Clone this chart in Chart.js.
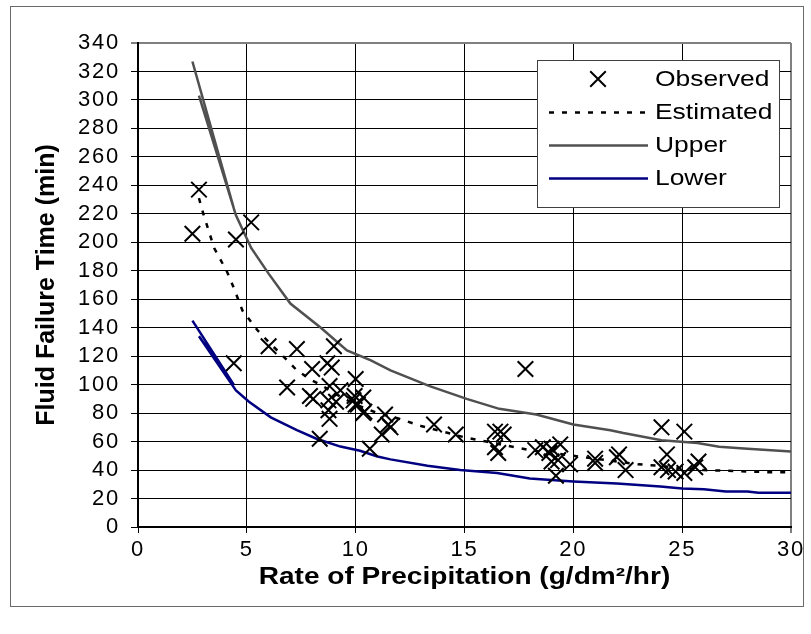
<!DOCTYPE html>
<html><head><meta charset="utf-8">
<script src="https://cdn.jsdelivr.net/npm/chart.js@4.4.0/dist/chart.umd.min.js"></script>
<style>html,body{margin:0;padding:0;background:#fff}#wrap{width:811px;height:634px;position:relative}</style>
</head><body><div id="wrap"><canvas id="c" width="811" height="634"></canvas></div>
<script>
const observedX = [2.5, 2.8, 4.5, 5.2, 4.4, 6.0, 7.3, 9.0, 6.85, 8.0, 8.7, 8.9, 7.9, 8.05, 8.8, 9.3, 10.0, 8.75, 9.1, 9.9, 10.0, 10.1, 10.35, 8.75, 8.8, 8.35, 10.65, 10.35, 10.4, 11.35, 11.5, 11.6, 11.2, 13.6, 14.6, 16.4, 16.4, 17.8, 16.65, 16.8, 16.55, 18.25, 18.6, 18.9, 19.4, 19.0, 19.3, 19.85, 21.0, 22.0, 24.05, 25.1, 22.1, 22.4, 24.3, 24.05, 24.35, 24.7, 25.1, 25.75, 25.6, 19.2, 21.0, 9.95, 19.0];
const observedY = [206, 237, 202, 214, 115, 127, 125, 127, 98, 111, 115, 112, 92, 90, 99, 96, 104, 89, 88, 89, 86, 86, 80, 82, 76, 62, 55, 91, 81, 79, 72, 70, 65, 72, 65, 67, 56, 111, 67, 65, 52, 54, 56, 52, 58, 46, 47, 44, 48, 49, 70, 67, 51, 40, 51, 42, 40, 39, 38, 46, 42, 36, 45, 92, 55];

const estimatedX = [2.8, 3.0, 3.5, 4.1, 4.4, 4.8, 5.5, 6.0, 6.8, 7.3, 8.0, 8.5, 9.0, 10.0, 11.0, 12.0, 13.0, 14.0, 15.0, 16.0, 17.0, 18.0, 19.0, 20.0, 21.0, 22.0, 23.0, 24.0, 25.0, 26.0, 27.0, 28.0, 29.0, 30.0];
const estimatedY = [231, 220, 196, 179, 168, 152, 138, 130, 118, 110, 103, 99, 94, 86, 80, 76, 71, 67, 63, 60, 57, 54, 52, 50, 48, 46, 44, 43, 41, 40, 39.5, 39, 38.5, 38.5];

const upperX = [2.5, 4.4, 2.8, 4.5, 5.2, 6.0, 7.0, 8.4, 9.6, 10.7, 11.6, 13.4, 15.1, 16.6, 18.3, 20.0, 21.7, 22.3, 24.05, 25.7, 26.7, 28.0, 30.0];
const upperY = [327, 224, 303, 219, 196, 178, 157, 140, 124, 117, 110, 99, 90, 83, 79, 72, 68, 66, 61, 59, 56.4, 55, 53];

const lowerX = [2.5, 4.4, 2.8, 4.5, 5.1, 6.1, 7.3, 8.2, 9.3, 10.2, 11.0, 11.6, 13.3, 14.8, 16.5, 18.0, 19.0, 20.0, 22.0, 24.0, 25.0, 26.0, 27.0, 28.0, 28.5, 30.0];
const lowerY = [145, 100, 134, 96, 88, 77, 68, 62, 56.5, 53.6, 49.5, 47.5, 43, 40, 38, 34, 33, 32, 30.5, 28.5, 27, 26.5, 25, 25, 24, 24];

const xTickValues = [0, 5, 10, 15, 20, 25, 30];
const yTickValues = [0, 20, 40, 60, 80, 100, 120, 140, 160, 180, 200, 220, 240, 260, 280, 300, 320, 340];

const seriesLabels = ['Observed', 'Estimated', 'Upper', 'Lower'];
const xTitle = 'Rate of Precipitation (g/dm\u00B2/hr)';
const yTitle = 'Fluid Failure Time (min)';

const zip = (xs, ys) => xs.map((x, i) => ({x: x, y: ys[i]}));
const FONT = '"Liberation Sans", Arial, sans-serif';
const STRETCH = 1.2;

function patchScale(scale, titleStretch, labelSpacing) {
  if (scale._rsPatched) return;
  scale._rsPatched = true;
  const proto = Object.getPrototypeOf(scale);
  scale.drawTitle = function () {
    const ctx = this.ctx;
    ctx.save();
    if (titleStretch !== 1) {
      const cx = (this.left + this.right) / 2;
      ctx.translate(cx, 0); ctx.scale(titleStretch, 1); ctx.translate(-cx, 0);
    }
    proto.drawTitle.call(this);
    ctx.restore();
  };
  scale.drawLabels = function (area) {
    const ctx = this.ctx;
    ctx.save();
    try { ctx.letterSpacing = labelSpacing; } catch (e) {}
    proto.drawLabels.call(this, area);
    ctx.restore();
  };
}

const frameAndLegend = {
  id: 'frameAndLegend',
  beforeDraw(chart) {
    patchScale(chart.scales.x, 1.22, '1.8px');
    patchScale(chart.scales.y, 1, '1.8px');
    const ctx = chart.ctx;
    ctx.save();
    ctx.fillStyle = '#fff';
    ctx.fillRect(0, 0, chart.width, chart.height);
    ctx.strokeStyle = '#6a6a6a';
    ctx.lineWidth = 1;
    ctx.strokeRect(10.5, 6.5, 793, 600);
    ctx.restore();
  },
  afterDraw(chart) {
    const ctx = chart.ctx;
    ctx.save();
    const bx = 537.5, by = 60.5, bw = 242, bh = 147;
    ctx.fillStyle = '#fff';
    ctx.fillRect(bx, by, bw, bh);
    ctx.strokeStyle = '#404040';
    ctx.lineWidth = 1;
    ctx.strokeRect(bx, by, bw, bh);
    const rowY = [79, 112, 145, 178];
    chart.data.datasets.forEach((ds, i) => {
      const y = rowY[i];
      ctx.save();
      if (ds.showLine === false) {
        ctx.strokeStyle = ds.borderColor;
        ctx.lineWidth = ds.pointBorderWidth;
        Chart.helpers.drawPoint(ctx, {pointStyle: ds.pointStyle, radius: ds.pointRadius, borderWidth: ds.pointBorderWidth}, 598, y);
      } else {
        ctx.strokeStyle = ds.borderColor;
        ctx.lineWidth = ds.borderWidth;
        ctx.setLineDash(ds.borderDash || []);
        ctx.beginPath();
        ctx.moveTo(549, y + 0.5); ctx.lineTo(648, y + 0.5);
        ctx.stroke();
      }
      ctx.restore();
      ctx.save();
      ctx.translate(655, y);
      ctx.scale(STRETCH, 1);
      ctx.fillStyle = '#000';
      ctx.font = '22px ' + FONT;
      ctx.textBaseline = 'middle';
      ctx.textAlign = 'left';
      ctx.fillText(ds.label, 0, 1);
      ctx.restore();
    });
    ctx.restore();
  }
};

new Chart(document.getElementById('c'), {
  type: 'scatter',
  data: {
    datasets: [
      {label: seriesLabels[0], data: zip(observedX, observedY), showLine: false, pointStyle: 'crossRot', pointRadius: 11, pointHoverRadius: 11, borderColor: '#000', backgroundColor: '#000', pointBorderWidth: 2, borderWidth: 2, order: 0},
      {label: seriesLabels[1], data: zip(estimatedX, estimatedY), showLine: true, borderColor: '#000', borderWidth: 2.5, borderDash: [5, 8], pointRadius: 0, fill: false, tension: 0, order: 1},
      {label: seriesLabels[2], data: zip(upperX, upperY), showLine: true, borderColor: '#505050', borderWidth: 2.5, pointRadius: 0, fill: false, tension: 0, order: 2},
      {label: seriesLabels[3], data: zip(lowerX, lowerY), showLine: true, borderColor: '#000080', borderWidth: 2.5, pointRadius: 0, fill: false, tension: 0, order: 3}
    ]
  },
  options: {
    responsive: false,
    animation: false,
    devicePixelRatio: 1,
    layout: {padding: {left: 32, top: 43, right: 20, bottom: 43}},
    plugins: {legend: {display: false}, tooltip: {enabled: false}},
    scales: {
      x: {
        type: 'linear', min: 0, max: 30,
        afterBuildTicks: s => { s.ticks = xTickValues.map(v => ({value: v})); },
        afterFit: s => { s.height = 64; },
        ticks: {color: '#000', font: {family: FONT, size: 22}, padding: 4, maxRotation: 0, autoSkip: false},
        grid: {color: ctx => (ctx.tick && ctx.tick.value === 30) ? '#808080' : '#000', lineWidth: ctx => (ctx.tick && ctx.tick.value === 30) ? 2 : 1, tickLength: 6, tickColor: '#000', tickWidth: 1},
        border: {color: '#000', width: 2},
        title: {display: true, text: xTitle, color: '#000', font: {family: FONT, size: 23, weight: 'bold'}, padding: 0}
      },
      y: {
        type: 'linear', min: 0, max: 340,
        afterBuildTicks: s => { s.ticks = yTickValues.map(v => ({value: v})); },
        afterFit: s => { s.width = 106; },
        ticks: {color: '#000', font: {family: FONT, size: 22}, padding: 11, autoSkip: false},
        grid: {color: ctx => (ctx.tick && ctx.tick.value === 340) ? '#808080' : '#000', lineWidth: ctx => (ctx.tick && ctx.tick.value === 340) ? 2 : 1, tickLength: 7, tickColor: '#000', tickWidth: 1},
        border: {color: '#000', width: 2},
        title: {display: true, text: yTitle, color: '#000', font: {family: FONT, size: 25, weight: 'bold'}, padding: 0}
      }
    }
  },
  plugins: [frameAndLegend]
});
</script>
</body></html>
